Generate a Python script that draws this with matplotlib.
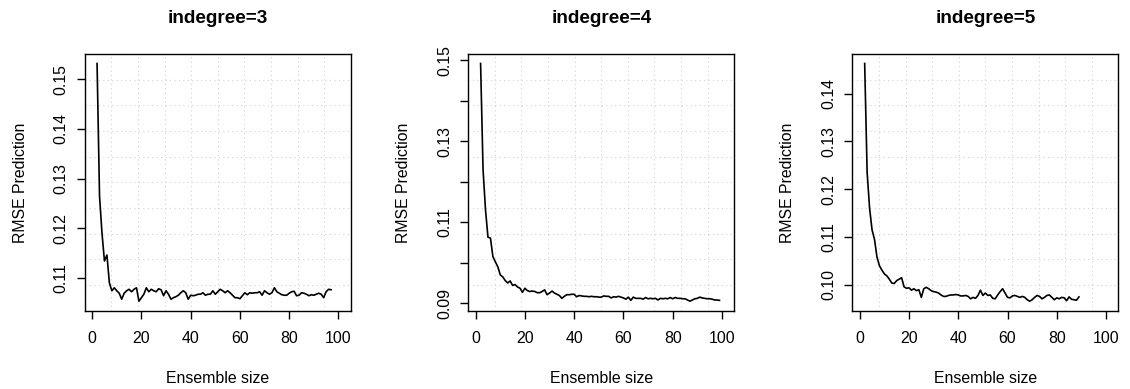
import numpy as np
import matplotlib
matplotlib.use("Agg")
import matplotlib.pyplot as plt

plt.rcParams['font.family'] = ['Liberation Sans', 'DejaVu Sans']

# ensemble sizes and RMSE
sizes_3 = np.arange(2, 98)
rmse_3 = [0.1532, 0.1265, 0.1190, 0.1134, 0.1146, 0.1090, 0.1074, 0.1080, 0.1074, 0.1069,
          0.1057, 0.1069, 0.1074, 0.1077, 0.1072, 0.1077, 0.1080, 0.1053, 0.1060, 0.1067,
          0.1080, 0.1072, 0.1077, 0.1074, 0.1072, 0.1078, 0.1076, 0.1064, 0.1074, 0.1067,
          0.1057, 0.1060, 0.1062, 0.1065, 0.1070, 0.1074, 0.1070, 0.1057, 0.1065, 0.1064,
          0.1065, 0.1067, 0.1067, 0.1070, 0.1065, 0.1067, 0.1067, 0.1074, 0.1067, 0.1072,
          0.1077, 0.1074, 0.1070, 0.1074, 0.1070, 0.1065, 0.1060, 0.1060, 0.1058, 0.1064,
          0.1070, 0.1066, 0.1070, 0.1069, 0.1070, 0.1070, 0.1072, 0.1065, 0.1074, 0.1070,
          0.1067, 0.1070, 0.1080, 0.1072, 0.1069, 0.1066, 0.1065, 0.1065, 0.1069, 0.1072,
          0.1073, 0.1064, 0.1065, 0.1070, 0.1069, 0.1067, 0.1064, 0.1066, 0.1065, 0.1067,
          0.1069, 0.1067, 0.1060, 0.1072, 0.1077, 0.1076]

sizes_4 = np.arange(2, 100)
rmse_4 = [0.1492, 0.1230, 0.1130, 0.1063, 0.1061, 0.1015, 0.1002, 0.0990, 0.0970, 0.0965,
          0.0956, 0.0950, 0.0955, 0.0944, 0.0946, 0.0940, 0.0937, 0.0927, 0.0937, 0.0931,
          0.0929, 0.0930, 0.0929, 0.0926, 0.0926, 0.0929, 0.0933, 0.0921, 0.0925, 0.0930,
          0.0925, 0.0922, 0.0919, 0.0912, 0.0917, 0.0921, 0.0921, 0.0922, 0.0922, 0.0916,
          0.0919, 0.0918, 0.0917, 0.0917, 0.0916, 0.0917, 0.0916, 0.0916, 0.0915, 0.0915,
          0.0918, 0.0917, 0.0917, 0.0913, 0.0916, 0.0915, 0.0917, 0.0915, 0.0913, 0.0910,
          0.0915, 0.0907, 0.0915, 0.0912, 0.0912, 0.0912, 0.0910, 0.0914, 0.0911, 0.0912,
          0.0911, 0.0912, 0.0908, 0.0912, 0.0911, 0.0912, 0.0911, 0.0914, 0.0911, 0.0914,
          0.0912, 0.0912, 0.0911, 0.0911, 0.0908, 0.0905, 0.0908, 0.0911, 0.0912, 0.0915,
          0.0913, 0.0912, 0.0911, 0.0911, 0.0910, 0.0908, 0.0908, 0.0907]

sizes_5 = np.arange(2, 90)
rmse_5 = [0.1463, 0.1235, 0.1160, 0.1115, 0.1095, 0.1058, 0.1040, 0.1031, 0.1023, 0.1019,
          0.1012, 0.1004, 0.1003, 0.1009, 0.1012, 0.1015, 0.0996, 0.0993, 0.0994, 0.0989,
          0.0992, 0.0988, 0.0990, 0.0974, 0.0992, 0.0995, 0.0992, 0.0988, 0.0986, 0.0985,
          0.0983, 0.0979, 0.0976, 0.0976, 0.0978, 0.0979, 0.0979, 0.0980, 0.0979, 0.0977,
          0.0977, 0.0978, 0.0976, 0.0971, 0.0974, 0.0972, 0.0978, 0.0989, 0.0978, 0.0983,
          0.0978, 0.0979, 0.0972, 0.0971, 0.0979, 0.0986, 0.0992, 0.0983, 0.0974, 0.0973,
          0.0977, 0.0978, 0.0976, 0.0974, 0.0976, 0.0974, 0.0969, 0.0966, 0.0969, 0.0974,
          0.0978, 0.0976, 0.0971, 0.0974, 0.0978, 0.0979, 0.0974, 0.0969, 0.0973, 0.0971,
          0.0974, 0.0973, 0.0967, 0.0975, 0.0970, 0.0969, 0.0968, 0.0975]

titles = ['indegree=3', 'indegree=4', 'indegree=5']
x_ticks = [0, 20, 40, 60, 80, 100]
y_ticks_3 = [0.11, 0.12, 0.13, 0.14, 0.15]
y_labels_3 = ['0.11', '0.12', '0.13', '0.14', '0.15']
y_ticks_4 = [0.09, 0.10, 0.11, 0.12, 0.13, 0.14, 0.15]
y_labels_4 = ['0.09', '', '0.11', '', '0.13', '', '0.15']
y_ticks_5 = [0.10, 0.11, 0.12, 0.13, 0.14]
y_labels_5 = ['0.10', '0.11', '0.12', '0.13', '0.14']

panels = [(sizes_3, rmse_3, y_ticks_3, y_labels_3),
          (sizes_4, rmse_4, y_ticks_4, y_labels_4),
          (sizes_5, rmse_5, y_ticks_5, y_labels_5)]
lefts = [0.075, 0.4144, 0.7543]

fig = plt.figure(figsize=(11.3, 3.89), dpi=100)

for i, (xs, ys, yt, yl) in enumerate(panels):
    ax = fig.add_axes([lefts[i], 0.2013, 0.2354, 0.66])
    ax.plot(xs, ys, color='black', lw=1.2, zorder=3)
    ax.set_xlim(-3, 105)
    ax.margins(y=0.04)
    y0, y1 = ax.get_ylim()
    ax.set_ylim(y0, y1)

    # R style grid(10, 10): dotted lines at tenths of the plot region
    for gx in np.linspace(-3, 105, 11):
        ax.axvline(gx, color='lightgray', lw=0.8, ls=(0, (1, 3)), zorder=1)
    for gy in np.linspace(y0, y1, 11):
        ax.axhline(gy, color='lightgray', lw=0.8, ls=(0, (1, 3)), zorder=1)

    ax.set_xticks(x_ticks)
    ax.set_yticks(yt)
    ax.set_yticklabels(yl, rotation=90, va='center')
    ax.tick_params(direction='out', length=5.8, width=1, labelsize=11.4, pad=9)
    ax.tick_params(axis='y', pad=6)
    for s in ax.spines.values():
        s.set_linewidth(1.0)

    ax.set_title(titles[i], fontweight='bold', fontsize=13.7, pad=22)
    ax.set_xlabel('Ensemble size', fontsize=11.4, va='baseline')
    ax.xaxis.set_label_coords(0.5, -0.283)
    ax.set_ylabel('RMSE Prediction', fontsize=11.4, va='center')
    ax.yaxis.set_label_coords(-0.243, 0.5)

fig.savefig('out.png', dpi=100)
